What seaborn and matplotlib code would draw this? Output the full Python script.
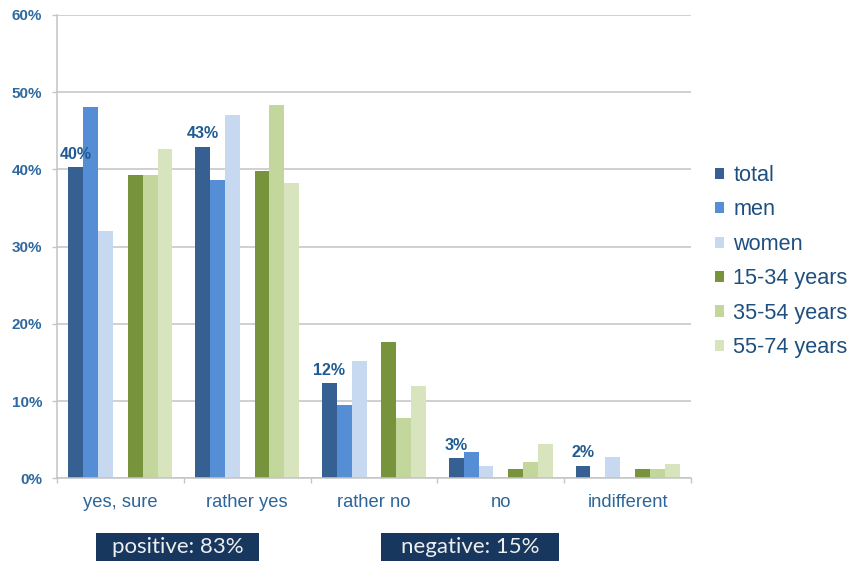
import numpy as np
import pandas as pd
import matplotlib
matplotlib.use("Agg")
import matplotlib.pyplot as plt
from matplotlib.patches import Patch, Rectangle
import seaborn as sns

# Survey answers and the share (%) of each respondent group
answers = ["yes, sure", "rather yes", "rather no", "no", "indifferent"]
total = [40.3, 42.9, 12.3, 2.6, 1.6]
men = [48.1, 38.6, 9.5, 3.4, 0.0]
women = [32.0, 47.0, 15.2, 1.6, 2.8]
age_15_34 = [39.3, 39.8, 17.6, 1.2, 1.2]
age_35_54 = [39.3, 48.4, 7.8, 2.1, 1.2]
age_55_74 = [42.6, 38.3, 12.0, 4.5, 1.8]

groups = ["total", "men", "women", "15-34 years", "35-54 years", "55-74 years"]
series = [total, men, women, age_15_34, age_35_54, age_55_74]
colors = ["#376092", "#558ED5", "#C6D9F1", "#77933C", "#C3D69B", "#D7E4BD"]
y_ticks = [0, 10, 20, 30, 40, 50, 60]

GAP = " "  # empty hue slot separating gender groups from age groups
hue_levels = groups[:3] + [GAP] + groups[3:]
palette = dict(zip(groups, colors))
palette[GAP] = "#FFFFFF"

df = pd.DataFrame(
    [(a, g, v) for g, vals in zip(groups, series) for a, v in zip(answers, vals)],
    columns=["answer", "group", "share"],
)

sns.set_style("white")
plt.rcParams["font.family"] = ["Liberation Sans", "DejaVu Sans"]

W, H = 851, 563
fig = plt.figure(figsize=(W / 100, H / 100), dpi=100)
ax = fig.add_axes([57 / W, 1 - 478.3 / H, (691 - 57) / W, (478.3 - 15) / H])

sns.barplot(
    data=df, x="answer", y="share", hue="group",
    order=answers, hue_order=hue_levels, palette=palette,
    width=0.82, linewidth=0, saturation=1, errorbar=None,
    legend=False, ax=ax,
)

grid_c = "#C4C4C4"
ax.set_ylim(0, 60)
ax.set_xlim(-0.5, len(answers) - 0.5)
ax.set_yticks(y_ticks)
ax.set_yticklabels([f"{t}%" for t in y_ticks], fontsize=11, fontweight="bold",
                   color="#2E68A0")
ax.yaxis.grid(True, color=grid_c, lw=1.1)
ax.set_axisbelow(True)
ax.tick_params(axis="y", length=3.6, width=1, color=grid_c, pad=7, direction="out",
               left=True)
ax.set_xlabel("")
ax.set_ylabel("")
ax.tick_params(axis="x", which="major", length=0, pad=11.5, labelsize=13.2,
               labelcolor="#2C6699")
ax.set_xticks(np.arange(-0.5, len(answers), 1.0), minor=True)
ax.tick_params(axis="x", which="minor", length=3.6, width=1, color=grid_c,
               direction="out", bottom=True)
for side in ("top", "right"):
    ax.spines[side].set_visible(False)
for side in ("left", "bottom"):
    ax.spines[side].set_color(grid_c)
    ax.spines[side].set_linewidth(1.1)

# value labels on the "total" bars
ax.bar_label(ax.containers[0], fmt=lambda v: f"{v:.0f}%", padding=4,
             fontsize=11.5, fontweight="bold", color="#1F5B92")

# legend
handles = [Patch(facecolor=c, edgecolor="none") for c in colors]
fig.legend(handles, groups, loc="upper left",
           bbox_to_anchor=(715 / W, 1 - 165 / H), frameon=False,
           fontsize=15.6, handlelength=0.42, handleheight=0.42,
           handletextpad=0.42, labelspacing=0.62, borderpad=0, borderaxespad=0,
           labelcolor="#1F4F7E")

# summary boxes below the axis
positive = round(total[0] + total[1])
negative = round(total[2] + total[3])
for (x0, x1), txt in [((96, 259), f"positive: {positive}%"),
                      ((381, 559), f"negative: {negative}%")]:
    fig.patches.append(Rectangle((x0 / W, 1 - 561 / H), (x1 - x0) / W, 28 / H,
                                 transform=fig.transFigure, facecolor="#17375E",
                                 edgecolor="none"))
    fig.text((x0 + x1) / 2 / W, 1 - 547 / H, txt, ha="center", va="center",
             color="#EEEEEE", fontsize=16, family=["Lato", "DejaVu Sans"])

fig.savefig("out.png", dpi=100)
